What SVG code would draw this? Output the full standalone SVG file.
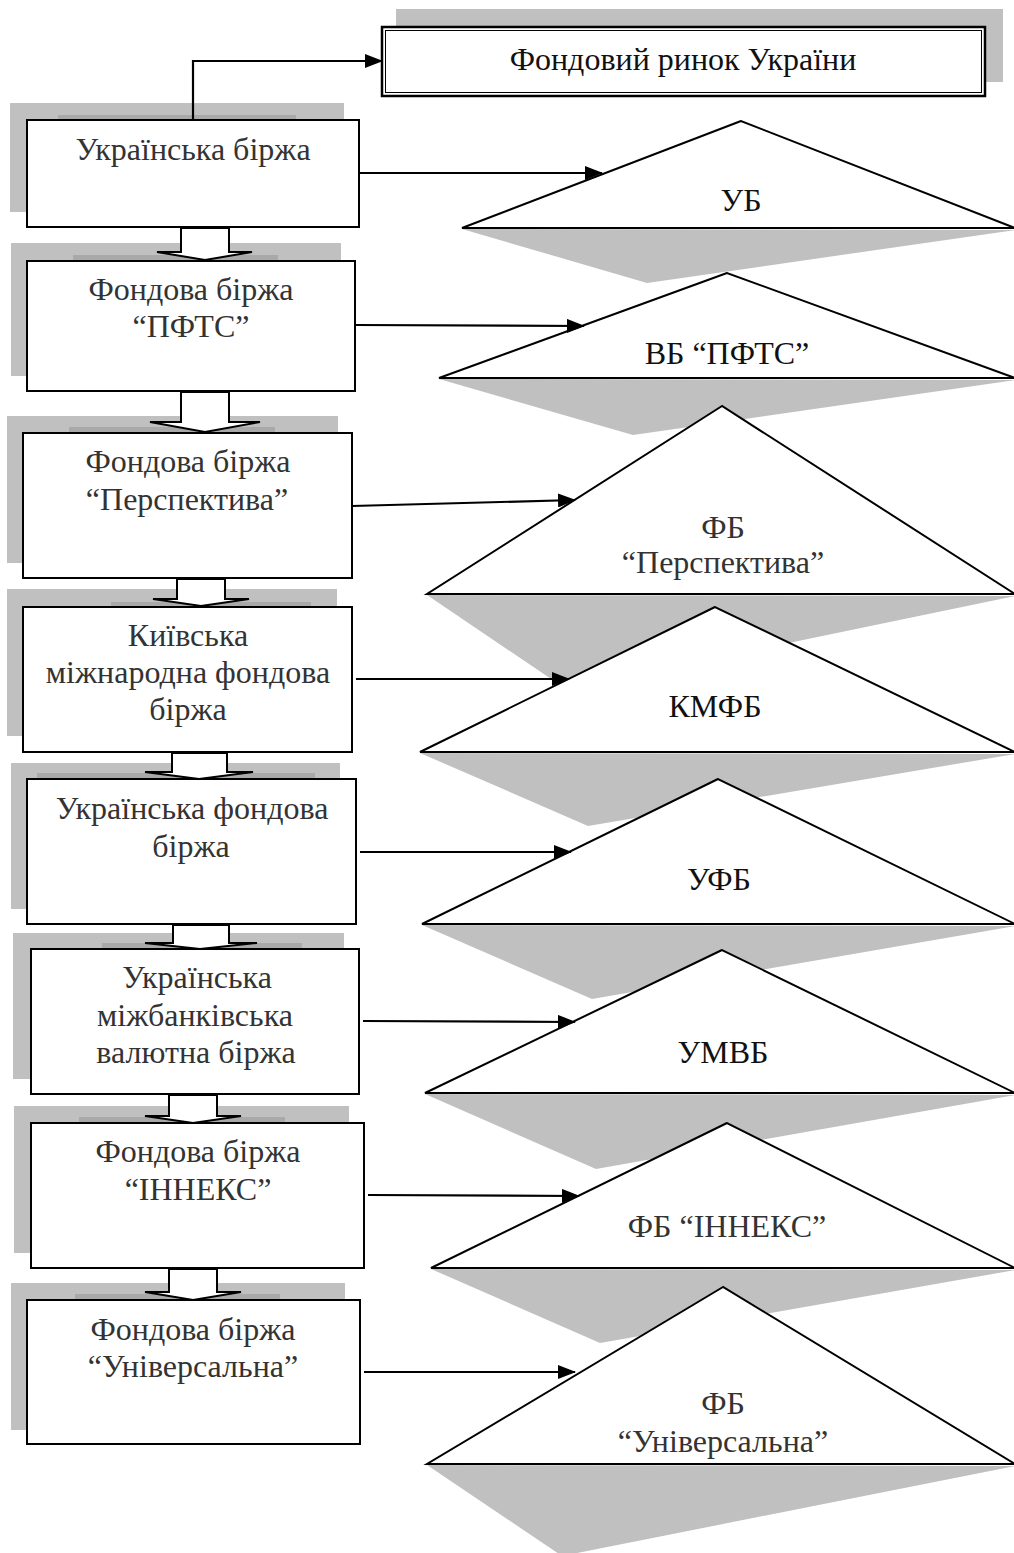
<svg xmlns="http://www.w3.org/2000/svg" width="1014" height="1553" viewBox="0 0 1014 1553">
<defs>
<style>
.sh{fill:#c0c0c0}
.shd{fill:#a9a9a9}
.box{fill:#fff;stroke:#000;stroke-width:2}
.tri{fill:#fff;stroke:#000;stroke-width:2;stroke-linejoin:miter}
.blk{fill:#fff;stroke:#000;stroke-width:2;stroke-linejoin:miter}
.t{font-family:"Liberation Serif","Times New Roman",serif;font-size:32px;fill:#333;text-anchor:middle}
.tb{fill:#111}
.ln{fill:none;stroke:#000;stroke-width:2.2}
</style>
<marker id="ah" markerWidth="18" markerHeight="14" refX="17" refY="7" orient="auto" markerUnits="userSpaceOnUse">
<path d="M0,0 L18,7 L0,14 Z" fill="#000"/>
</marker>
</defs>
<rect width="1014" height="1553" fill="#fff"/>

<g id="triangles">
<g id="t1">
<polygon class="sh" points="462,229 647,283 1015,230"/>
<polygon class="tri" points="741,121 462,228 1015,228"/>
<text class="t tb" x="741" y="211">УБ</text>
</g>
<g id="t2">
<polygon class="sh" points="439,379 633,435 1015,380"/>
<polygon class="tri" points="727,273 439,378 1015,378"/>
<text class="t tb" x="727" y="364">ВБ “ПФТС”</text>
</g>
<g id="t3">
<polygon class="sh" points="427,595 566,689 1015,596"/>
<polygon class="tri" points="722,406 427,594 1015,594"/>
<text class="t" x="723" y="538">ФБ</text>
<text class="t" x="723" y="573">“Перспектива”</text>
</g>
<g id="t4">
<polygon class="sh" points="420,753 588,826 1015,754"/>
<polygon class="tri" points="715,607 420,752 1015,752"/>
<text class="t tb" x="715" y="717">КМФБ</text>
</g>
<g id="t5">
<polygon class="sh" points="422,925 592,999 1015,926"/>
<polygon class="tri" points="718,779 422,924 1015,924"/>
<text class="t tb" x="719" y="890">УФБ</text>
</g>
<g id="t6">
<polygon class="sh" points="425,1094 596,1169 1015,1095"/>
<polygon class="tri" points="722,950 425,1093 1015,1093"/>
<text class="t tb" x="723" y="1063">УМВБ</text>
</g>
<g id="t7">
<polygon class="sh" points="431,1269 600,1343 1015,1270"/>
<polygon class="tri" points="727,1123 431,1268 1015,1268"/>
<text class="t" x="727" y="1237">ФБ “ІННЕКС”</text>
</g>
<g id="t8">
<polygon class="sh" points="427,1465 562,1556 1015,1466"/>
<polygon class="tri" points="723,1287 427,1464 1015,1464"/>
<text class="t" x="723" y="1414">ФБ</text>
<text class="t" x="723" y="1452">“Універсальна”</text>
</g>
</g>

<g id="top">
<rect class="sh" x="396" y="9" width="607" height="73"/>
<rect x="382" y="27" width="603" height="69" fill="#fff" stroke="#000" stroke-width="2.5"/>
<rect x="385.5" y="30.5" width="596" height="62" fill="none" stroke="#000" stroke-width="1"/>
<text class="t tb" x="683" y="70">Фондовий ринок України</text>
</g>

<g id="b1">
<rect class="sh" x="10" y="103" width="334" height="109"/>
<rect class="shd" x="58" y="115" width="238" height="5"/>
<rect class="box" x="27" y="120" width="332" height="107"/>
<text class="t" x="193" y="160">Українська біржа</text>
</g>
<g id="b2">
<rect class="sh" x="11" y="243" width="330" height="133"/>
<rect class="shd" x="73" y="255" width="205" height="6"/>
<rect class="box" x="27" y="261" width="328" height="130"/>
<text class="t" x="191" y="300">Фондова біржа</text>
<text class="t" x="191" y="337">“ПФТС”</text>
</g>
<g id="b3">
<rect class="sh" x="7" y="416" width="331" height="147"/>
<rect class="shd" x="69" y="427" width="206" height="6"/>
<rect class="box" x="23" y="433" width="329" height="145"/>
<text class="t" x="188" y="472">Фондова біржа</text>
<text class="t" x="187" y="510">“Перспектива”</text>
</g>
<g id="b4">
<rect class="sh" x="7" y="589" width="330" height="147"/>
<rect class="shd" x="111" y="602" width="200" height="5"/>
<rect class="box" x="23" y="607" width="329" height="145"/>
<text class="t" x="188" y="646">Київська</text>
<text class="t" x="188" y="683">міжнародна фондова</text>
<text class="t" x="188" y="720">біржа</text>
</g>
<g id="b5">
<rect class="sh" x="11" y="763" width="329" height="146"/>
<rect class="shd" x="37" y="773" width="278" height="6"/>
<rect class="box" x="27" y="779" width="329" height="145"/>
<text class="t" x="192" y="819">Українська фондова</text>
<text class="t" x="191" y="857">біржа</text>
</g>
<g id="b6">
<rect class="sh" x="13" y="933" width="331" height="146"/>
<rect class="shd" x="102" y="943" width="200" height="6"/>
<rect class="box" x="31" y="949" width="328" height="145"/>
<text class="t" x="197" y="988">Українська</text>
<text class="t" x="195" y="1026">міжбанківська</text>
<text class="t" x="196" y="1063">валютна біржа</text>
</g>
<g id="b7">
<rect class="sh" x="14" y="1106" width="335" height="147"/>
<rect class="shd" x="79" y="1117" width="206" height="6"/>
<rect class="box" x="31" y="1123" width="333" height="145"/>
<text class="t" x="198" y="1162">Фондова біржа</text>
<text class="t" x="198" y="1200">“ІННЕКС”</text>
</g>
<g id="b8">
<rect class="sh" x="11" y="1283" width="334" height="147"/>
<rect class="shd" x="75" y="1294" width="205" height="6"/>
<rect class="box" x="27" y="1300" width="333" height="144"/>
<text class="t" x="193" y="1340">Фондова біржа</text>
<text class="t" x="193" y="1377">“Універсальна”</text>
</g>

<g id="connectors">
<polygon class="blk" points="181,228 229,228 229,252 252,252 205,260 157,252 181,252"/>
<polygon class="blk" points="181,392 229,392 229,422 260,422 205,432 150,422 181,422"/>
<polygon class="blk" points="177,579 225,579 225,599 249,599 201,606 153,599 177,599"/>
<polygon class="blk" points="172,753 227,753 227,772 253,772 199,779 145,772 172,772"/>
<polygon class="blk" points="173,925 229,925 229,943 257,943 200,949 145,943 173,943"/>
<polygon class="blk" points="169,1095 217,1095 217,1116 241,1116 193,1123 145,1116 169,1116"/>
<polygon class="blk" points="169,1269 217,1269 217,1292 241,1292 193,1300 145,1292 169,1292"/>
<polyline class="ln" points="193,120 193,61 382,61" marker-end="url(#ah)"/>
<line class="ln" x1="359" y1="173" x2="602" y2="173" marker-end="url(#ah)"/>
<line class="ln" x1="355" y1="325" x2="584" y2="326" marker-end="url(#ah)"/>
<line class="ln" x1="352" y1="506" x2="575" y2="500" marker-end="url(#ah)"/>
<line class="ln" x1="356" y1="679" x2="569" y2="679" marker-end="url(#ah)"/>
<line class="ln" x1="360" y1="852" x2="571" y2="852" marker-end="url(#ah)"/>
<line class="ln" x1="363" y1="1021" x2="575" y2="1022" marker-end="url(#ah)"/>
<line class="ln" x1="368" y1="1195" x2="579" y2="1196" marker-end="url(#ah)"/>
<line class="ln" x1="364" y1="1372" x2="575" y2="1372" marker-end="url(#ah)"/>
</g>
</svg>
